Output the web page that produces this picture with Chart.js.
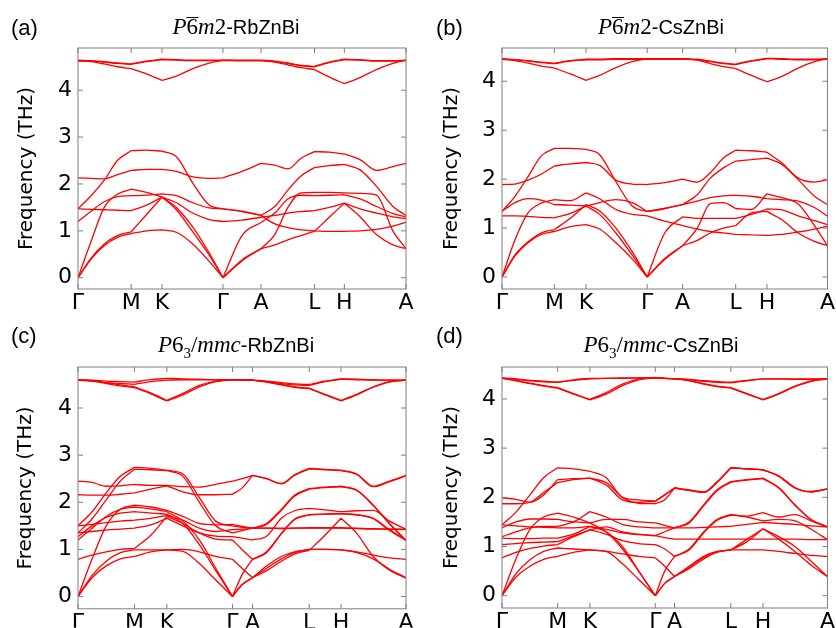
<!DOCTYPE html>
<html>
<head>
<meta charset="utf-8">
<script src="https://cdn.jsdelivr.net/npm/chart.js"></script>
<style>
body { margin: 0; background: #fff; }
#page { position: relative; width: 836px; height: 628px; overflow: hidden; font-family: "Liberation Sans", Arial, sans-serif; }
canvas { position: absolute; }
.lab { position: absolute; font-size: 22px; line-height: 1; }
.ttl { position: absolute; font-size: 20px; line-height: 1; white-space: nowrap; transform: translateX(-50%); }
.m { font-family: "Liberation Serif", serif; font-size: 23px; }
.ob { display: inline-block; line-height: 0.72em; border-top: 1px solid #000; padding-top: 1px; }
</style>
</head>
<body>
<div id="page">
  <canvas id="ca" width="418" height="314" style="left:0;top:0"></canvas>
  <canvas id="cb" width="418" height="314" style="left:418px;top:0"></canvas>
  <canvas id="cc" width="418" height="314" style="left:0;top:314px"></canvas>
  <canvas id="cd" width="418" height="314" style="left:418px;top:314px"></canvas>

  <div class="lab" style="left:11px;top:17px">(a)</div>
  <div class="lab" style="left:436px;top:17px">(b)</div>
  <div class="lab" style="left:11px;top:325px">(c)</div>
  <div class="lab" style="left:436px;top:325px">(d)</div>

  <div class="ttl" style="left:236px;top:15px"><span class="m"><i>P</i><span class="ob">6</span><i>m</i>2</span>-RbZnBi</div>
  <div class="ttl" style="left:661px;top:15px"><span class="m"><i>P</i><span class="ob">6</span><i>m</i>2</span>-CsZnBi</div>
  <div class="ttl" style="left:236px;top:333px"><span class="m"><i>P</i>6<sub style="font-size:15px">3</sub>/<i>mmc</i></span>-RbZnBi</div>
  <div class="ttl" style="left:661px;top:333px"><span class="m"><i>P</i>6<sub style="font-size:15px">3</sub>/<i>mmc</i></span>-CsZnBi</div>
</div>
<script>
// high-symmetry path labels
const pathLabels = ['Γ', 'M', 'K', 'Γ', 'A', 'L', 'H', 'A'];

// (a) P-6m2 RbZnBi
const ticksA = [0, 0.162, 0.256, 0.442, 0.558, 0.721, 0.812, 1];
const kA = [0, 0.04, 0.08, 0.12, 0.162, 0.209, 0.256, 0.30, 0.35, 0.40, 0.442, 0.50, 0.558, 0.60, 0.64, 0.68, 0.721, 0.766, 0.812, 0.86, 0.91, 0.96, 1];
const bandsA = [
  [4.64, 4.63, 4.61, 4.58, 4.56, 4.62, 4.66, 4.65, 4.64, 4.64, 4.64, 4.64, 4.64, 4.62, 4.58, 4.53, 4.51, 4.6, 4.66, 4.65, 4.63, 4.63, 4.64],
  [4.63, 4.61, 4.56, 4.5, 4.46, 4.35, 4.21, 4.3, 4.46, 4.58, 4.64, 4.63, 4.63, 4.6, 4.54, 4.48, 4.44, 4.28, 4.14, 4.27, 4.44, 4.57, 4.64],
  [4.62, 4.62, 4.6, 4.57, 4.55, 4.61, 4.65, 4.64, 4.63, 4.63, 4.63, 4.63, 4.63, 4.61, 4.57, 4.52, 4.5, 4.59, 4.65, 4.64, 4.62, 4.62, 4.63],
  [1.47, 1.75, 2.08, 2.5, 2.71, 2.72, 2.70, 2.58, 2.02, 1.55, 1.47, 1.42, 1.33, 1.52, 1.87, 2.17, 2.35, 2.39, 2.42, 2.3, 1.95, 1.52, 1.33],
  [2.13, 2.12, 2.11, 2.2, 2.29, 2.31, 2.31, 2.27, 2.15, 2.12, 2.13, 2.27, 2.44, 2.40, 2.32, 2.55, 2.69, 2.68, 2.64, 2.52, 2.29, 2.37, 2.44],
  [0, 0.78, 1.5, 1.78, 1.89, 1.82, 1.72, 1.45, 0.98, 0.48, 0, 0.9, 1.18, 1.38, 1.68, 1.76, 1.75, 1.76, 1.77, 1.68, 1.52, 1.37, 1.3],
  [1.2, 1.42, 1.62, 1.73, 1.75, 1.76, 1.79, 1.75, 1.6, 1.49, 1.47, 1.41, 1.33, 1.15, 1.07, 1.02, 1.0, 0.99, 0.99, 1.0, 1.03, 1.1, 1.18],
  [1.47, 1.46, 1.45, 1.44, 1.43, 1.55, 1.72, 1.6, 1.38, 1.24, 1.2, 1.23, 1.29, 1.33, 1.38, 1.41, 1.43, 1.5, 1.59, 1.47, 1.38, 1.3, 1.26],
  [0, 0.42, 0.72, 0.9, 0.98, 1.35, 1.72, 1.5, 1.08, 0.53, 0, 0.38, 0.62, 0.92, 1.5, 1.81, 1.82, 1.82, 1.81, 1.8, 1.76, 1.0, 0.62],
  [0, 0.4, 0.68, 0.86, 0.94, 1.0, 1.02, 0.97, 0.72, 0.35, 0, 0.36, 0.62, 0.7, 0.81, 0.9, 0.99, 1.29, 1.59, 1.3, 0.92, 0.7, 0.62]
];

// (b) P-6m2 CsZnBi
const ticksB = [0, 0.161, 0.258, 0.446, 0.555, 0.718, 0.814, 1];
const kB = [0, 0.04, 0.08, 0.12, 0.161, 0.21, 0.258, 0.30, 0.35, 0.40, 0.446, 0.50, 0.555, 0.60, 0.64, 0.68, 0.718, 0.766, 0.814, 0.86, 0.91, 0.96, 1];
const bandsB = [
  [4.46, 4.44, 4.42, 4.39, 4.37, 4.42, 4.45, 4.45, 4.46, 4.46, 4.46, 4.46, 4.46, 4.45, 4.41, 4.37, 4.35, 4.42, 4.47, 4.46, 4.45, 4.45, 4.46],
  [4.45, 4.42, 4.37, 4.31, 4.27, 4.15, 4.02, 4.12, 4.28, 4.4, 4.46, 4.46, 4.46, 4.43, 4.36, 4.3, 4.26, 4.12, 3.99, 4.1, 4.27, 4.4, 4.46],
  [4.45, 4.44, 4.41, 4.38, 4.36, 4.41, 4.44, 4.44, 4.45, 4.45, 4.45, 4.45, 4.45, 4.44, 4.4, 4.36, 4.34, 4.41, 4.46, 4.45, 4.44, 4.44, 4.45],
  [1.34, 1.65, 2.05, 2.47, 2.63, 2.63, 2.61, 2.5, 1.95, 1.45, 1.34, 1.4, 1.48, 1.68, 2.02, 2.23, 2.37, 2.4, 2.43, 2.3, 1.99, 1.65, 1.48],
  [1.89, 1.9, 1.98, 2.1, 2.27, 2.31, 2.34, 2.28, 1.98, 1.9, 1.89, 1.93, 2.0, 1.94, 2.13, 2.43, 2.59, 2.58, 2.55, 2.33, 2.02, 1.94, 1.99],
  [0, 0.76, 1.31, 1.51, 1.58, 1.56, 1.72, 1.6, 1.38, 1.28, 1.25, 1.14, 1.05, 0.98, 0.93, 0.9, 0.87, 0.86, 0.85, 0.87, 0.92, 0.98, 1.04],
  [1.34, 1.52, 1.6, 1.57, 1.48, 1.47, 1.45, 1.52, 1.58, 1.52, 1.34, 1.4, 1.48, 1.55, 1.62, 1.66, 1.67, 1.65, 1.6, 1.58, 1.55, 1.42, 1.24],
  [1.25, 1.25, 1.24, 1.22, 1.21, 1.3, 1.45, 1.28, 0.9, 0.45, 0, 0.9, 1.23, 1.2, 1.2, 1.2, 1.2, 1.28, 1.39, 1.37, 1.25, 1.15, 1.07],
  [0, 0.45, 0.72, 0.9, 0.97, 1.2, 1.48, 1.35, 1.0, 0.52, 0, 0.38, 0.64, 1.0, 1.5, 1.52, 1.4, 1.38, 1.7, 1.62, 1.49, 1.05, 0.64],
  [0, 0.43, 0.7, 0.87, 0.93, 1.03, 1.07, 0.98, 0.7, 0.37, 0, 0.36, 0.64, 0.75, 0.9, 1.0, 1.05, 1.31, 1.34, 1.17, 0.9, 0.73, 0.64]
];

// (c) P6_3/mmc RbZnBi
const ticksC = [0, 0.172, 0.271, 0.471, 0.532, 0.705, 0.802, 1];
const kC = [0, 0.043, 0.086, 0.129, 0.172, 0.222, 0.271, 0.32, 0.37, 0.42, 0.471, 0.50, 0.532, 0.575, 0.62, 0.66, 0.705, 0.753, 0.802, 0.85, 0.90, 0.95, 1];
const bandsC = [
  [4.6, 4.59, 4.57, 4.56, 4.55, 4.6, 4.63, 4.62, 4.61, 4.6, 4.6, 4.6, 4.59, 4.57, 4.54, 4.51, 4.5, 4.57, 4.62, 4.61, 4.6, 4.59, 4.59],
  [4.59, 4.57, 4.54, 4.52, 4.5, 4.56, 4.59, 4.6, 4.6, 4.6, 4.6, 4.6, 4.59, 4.56, 4.52, 4.49, 4.48, 4.56, 4.61, 4.6, 4.59, 4.59, 4.59],
  [4.6, 4.57, 4.52, 4.47, 4.43, 4.3, 4.15, 4.28, 4.45, 4.56, 4.6, 4.6, 4.59, 4.55, 4.49, 4.44, 4.41, 4.28, 4.15, 4.28, 4.44, 4.55, 4.59],
  [4.6, 4.58, 4.54, 4.49, 4.45, 4.32, 4.16, 4.31, 4.48, 4.57, 4.6, 4.6, 4.59, 4.56, 4.5, 4.45, 4.42, 4.29, 4.16, 4.29, 4.45, 4.56, 4.59],
  [2.45, 2.42, 2.34, 2.35, 2.38, 2.36, 2.36, 2.33, 2.32, 2.38, 2.45, 2.5, 2.57, 2.5, 2.4, 2.58, 2.72, 2.7, 2.68, 2.6, 2.34, 2.45, 2.57],
  [2.16, 2.15, 2.15, 2.17, 2.2, 2.28, 2.35, 2.22, 2.16, 2.16, 2.17, 2.3, 2.57, 2.5, 2.39, 2.57, 2.71, 2.69, 2.67, 2.59, 2.33, 2.44, 2.56],
  [1.5, 1.8, 2.2, 2.55, 2.74, 2.72, 2.68, 2.6, 2.1, 1.6, 1.5, 1.47, 1.45, 1.55, 1.85, 2.15, 2.29, 2.32, 2.34, 2.26, 1.94, 1.55, 1.19],
  [1.35, 1.65, 2.05, 2.45, 2.7, 2.69, 2.67, 2.55, 2.0, 1.5, 1.35, 1.4, 1.45, 1.53, 1.83, 2.13, 2.28, 2.31, 2.33, 2.25, 1.93, 1.54, 1.19],
  [0, 0.8, 1.5, 1.85, 1.94, 1.9, 1.83, 1.7, 1.55, 1.52, 1.53, 1.49, 1.45, 1.45, 1.45, 1.45, 1.45, 1.45, 1.45, 1.44, 1.43, 1.43, 1.43],
  [1.2, 1.45, 1.7, 1.85, 1.9, 1.86, 1.8, 1.6, 1.2, 0.6, 0, 0.46, 0.79, 0.93, 1.33, 1.63, 1.73, 1.75, 1.76, 1.73, 1.65, 1.4, 1.19],
  [1.27, 1.5, 1.68, 1.77, 1.8, 1.77, 1.75, 1.55, 1.1, 0.55, 0, 0.25, 0.4, 0.65, 0.85, 0.95, 1.0, 1.0, 0.99, 0.95, 0.88, 0.82, 0.79],
  [1.5, 1.53, 1.57, 1.6, 1.62, 1.66, 1.72, 1.62, 1.45, 1.38, 1.42, 1.43, 1.45, 1.45, 1.44, 1.45, 1.46, 1.46, 1.46, 1.45, 1.44, 1.43, 1.42],
  [1.35, 1.38, 1.41, 1.43, 1.45, 1.52, 1.66, 1.5, 1.35, 1.28, 1.27, 1.24, 1.2, 1.28, 1.66, 1.82, 1.87, 1.84, 1.8, 1.82, 1.83, 1.6, 1.43],
  [0.79, 0.88, 0.95, 1.0, 1.02, 1.3, 1.7, 1.55, 1.35, 1.22, 1.2, 1.0, 0.79, 0.95, 1.34, 1.64, 1.74, 1.75, 1.76, 1.74, 1.66, 1.42, 1.2],
  [0, 0.45, 0.75, 0.93, 0.99, 0.99, 0.99, 0.96, 0.7, 0.35, 0, 0.25, 0.4, 0.6, 0.8, 0.93, 1.0, 1.0, 0.99, 0.93, 0.8, 0.58, 0.4],
  [0, 0.4, 0.65, 0.8, 0.85, 0.95, 0.99, 1.0, 0.95, 0.85, 0.79, 0.6, 0.4, 0.55, 0.75, 0.9, 0.98, 1.3, 1.66, 1.34, 0.85, 0.56, 0.39]
];

// (d) P6_3/mmc CsZnBi
const ticksD = [0, 0.171, 0.270, 0.471, 0.530, 0.703, 0.802, 1];
const kD = [0, 0.043, 0.086, 0.128, 0.171, 0.22, 0.270, 0.32, 0.37, 0.42, 0.471, 0.50, 0.530, 0.575, 0.62, 0.66, 0.703, 0.753, 0.802, 0.85, 0.90, 0.95, 1];
const bandsD = [
  [4.43, 4.41, 4.38, 4.36, 4.34, 4.39, 4.42, 4.42, 4.42, 4.43, 4.43, 4.42, 4.41, 4.4, 4.37, 4.35, 4.34, 4.38, 4.41, 4.41, 4.41, 4.41, 4.41],
  [4.42, 4.4, 4.37, 4.35, 4.34, 4.38, 4.41, 4.42, 4.43, 4.43, 4.43, 4.42, 4.41, 4.39, 4.36, 4.34, 4.33, 4.37, 4.41, 4.41, 4.4, 4.4, 4.41],
  [4.42, 4.37, 4.31, 4.26, 4.22, 4.1, 3.98, 4.1, 4.27, 4.39, 4.43, 4.42, 4.41, 4.37, 4.3, 4.25, 4.22, 4.1, 3.98, 4.1, 4.25, 4.36, 4.41],
  [4.43, 4.38, 4.32, 4.27, 4.23, 4.11, 3.99, 4.13, 4.3, 4.41, 4.44, 4.42, 4.41, 4.38, 4.31, 4.26, 4.23, 4.11, 3.99, 4.11, 4.26, 4.37, 4.41],
  [1.99, 1.96, 1.9, 2.05, 2.36, 2.38, 2.39, 2.3, 2.0, 1.88, 1.87, 1.95, 2.19, 2.14, 2.1, 2.3, 2.6, 2.58, 2.56, 2.43, 2.19, 2.11, 2.17],
  [1.87, 1.87, 1.9, 2.1, 2.3, 2.36, 2.39, 2.25, 1.95, 1.9, 1.92, 2.05, 2.19, 2.14, 2.1, 2.3, 2.6, 2.58, 2.56, 2.43, 2.19, 2.11, 2.17],
  [1.44, 1.7, 2.05, 2.4, 2.6, 2.58, 2.53, 2.4, 2.0, 1.95, 1.92, 2.05, 2.19, 2.15, 2.11, 2.31, 2.6, 2.58, 2.56, 2.44, 2.2, 2.12, 2.17],
  [0, 0.75, 1.35, 1.6, 1.68, 1.6, 1.48, 1.3, 0.95, 0.5, 0, 0.5, 0.8, 0.93, 1.28, 1.53, 1.64, 1.6, 1.52, 1.55, 1.52, 1.35, 1.14],
  [1.38, 1.5, 1.56, 1.56, 1.55, 1.5, 1.48, 1.55, 1.55, 1.5, 1.48, 1.43, 1.38, 1.5, 1.85, 2.15, 2.32, 2.36, 2.39, 2.2, 1.85, 1.55, 1.4],
  [1.2, 1.3, 1.38, 1.41, 1.41, 1.5, 1.71, 1.6, 1.45, 1.4, 1.38, 1.38, 1.38, 1.48, 1.83, 2.13, 2.31, 2.35, 2.38, 2.19, 1.84, 1.54, 1.4],
  [1.44, 1.42, 1.4, 1.39, 1.38, 1.38, 1.41, 1.3, 1.0, 0.5, 0, 0.25, 0.39, 0.58, 0.78, 0.89, 0.93, 0.93, 0.93, 0.9, 0.86, 0.82, 0.8],
  [1.17, 1.16, 1.16, 1.17, 1.17, 1.25, 1.41, 1.35, 1.28, 1.24, 1.22, 1.3, 1.38, 1.38, 1.39, 1.4, 1.41, 1.45, 1.49, 1.47, 1.45, 1.42, 1.4],
  [1.04, 1.06, 1.08, 1.09, 1.1, 1.22, 1.34, 1.25, 1.12, 1.06, 1.04, 0.95, 0.8, 0.95, 1.3, 1.55, 1.65, 1.62, 1.69, 1.6, 1.65, 1.52, 1.4],
  [0.77, 0.88, 0.96, 1.01, 1.04, 1.2, 1.34, 1.4, 1.3, 1.25, 1.22, 1.18, 1.15, 1.15, 1.15, 1.15, 1.15, 1.15, 1.15, 1.15, 1.15, 1.14, 1.14],
  [0, 0.45, 0.73, 0.9, 0.97, 0.95, 0.93, 0.9, 0.65, 0.33, 0, 0.25, 0.39, 0.55, 0.75, 0.88, 0.93, 1.1, 1.36, 1.15, 0.9, 0.62, 0.39],
  [0, 0.38, 0.6, 0.74, 0.8, 0.88, 0.93, 0.9, 0.85, 0.8, 0.77, 0.6, 0.39, 0.6, 0.8, 0.9, 0.93, 1.15, 1.36, 1.2, 1.0, 0.7, 0.39]
];

const yTicks = [0, 1, 2, 3, 4];

// frame + inward tick marks
const frame = {
  id: 'frame',
  afterDatasetsDraw(chart) {
    const { ctx, chartArea: a, scales } = chart;
    ctx.save();
    ctx.strokeStyle = '#7f7f7f';
    ctx.lineWidth = 1;
    ctx.strokeRect(a.left, a.top, a.width, a.height);
    ctx.beginPath();
    scales.y.ticks.forEach(t => {
      const p = scales.y.getPixelForValue(t.value);
      ctx.moveTo(a.left, p); ctx.lineTo(a.left + 5, p);
      ctx.moveTo(a.right, p); ctx.lineTo(a.right - 5, p);
    });
    scales.x.ticks.forEach(t => {
      const p = scales.x.getPixelForValue(t.value);
      ctx.moveTo(p, a.top); ctx.lineTo(p, a.top + 5);
      ctx.moveTo(p, a.bottom); ctx.lineTo(p, a.bottom - 5);
    });
    ctx.stroke();
    ctx.restore();
  }
};

function drawPanel(id, k, ticks, bands, yMin, yMax, box) {
  const inner = ticks.slice(1, -1);
  const datasets = bands.map(vals => {
    const pts = [];
    k.forEach((x, i) => {
      pts.push({ x: x, y: vals[i] });
      // break the line at each high-symmetry point so kinks stay sharp
      if (inner.indexOf(x) >= 0) {
        pts.push({ x: x, y: null });
        pts.push({ x: x, y: vals[i] });
      }
    });
    return {
      data: pts,
      borderColor: '#ff0000',
      borderWidth: 1.3,
      pointRadius: 0,
      fill: false,
      spanGaps: false,
      cubicInterpolationMode: 'monotone'
    };
  });

  new Chart(document.getElementById(id), {
    type: 'line',
    data: { datasets: datasets },
    options: {
      responsive: false,
      animation: false,
      events: [],
      layout: { padding: { top: box.top, right: box.right, left: 0, bottom: 0 } },
      plugins: { legend: { display: false }, tooltip: { enabled: false } },
      scales: {
        x: {
          type: 'linear', min: 0, max: 1,
          grid: { display: false, drawTicks: false },
          border: { display: false },
          afterBuildTicks: s => { s.ticks = ticks.map(v => ({ value: v })); },
          afterFit: s => { s.height = box.xh; },
          ticks: {
            autoSkip: false, maxRotation: 0, padding: 1, color: '#000',
            font: { family: 'DejaVu Sans', size: 22 },
            callback: (v, i) => pathLabels[i]
          }
        },
        y: {
          type: 'linear', min: yMin, max: yMax,
          grid: { display: false, drawTicks: false },
          border: { display: false },
          afterBuildTicks: s => { s.ticks = yTicks.map(v => ({ value: v })); },
          afterFit: s => { s.width = box.yw; },
          ticks: {
            padding: 6, color: '#000',
            font: { family: 'DejaVu Sans', size: 22 },
            callback: v => String(v)
          },
          title: {
            display: true, text: 'Frequency (THz)', color: '#000',
            font: { family: 'DejaVu Sans', size: 20 },
            padding: { top: box.tp, bottom: 0 }
          }
        }
      }
    },
    plugins: [frame]
  });
}

drawPanel('ca', kA, ticksA, bandsA, -0.24, 4.9, { top: 48, right: 12, xh: 25, yw: 78, tp: 15 });
drawPanel('cb', kB, ticksB, bandsB, -0.245, 4.68, { top: 48, right: 6, xh: 25, yw: 84, tp: 22 });
drawPanel('cc', kC, ticksC, bandsC, -0.26, 4.87, { top: 53, right: 12, xh: 19, yw: 78, tp: 14 });
drawPanel('cd', kD, ticksD, bandsD, -0.25, 4.65, { top: 53, right: 6, xh: 20, yw: 84, tp: 22 });
</script>
</body>
</html>
